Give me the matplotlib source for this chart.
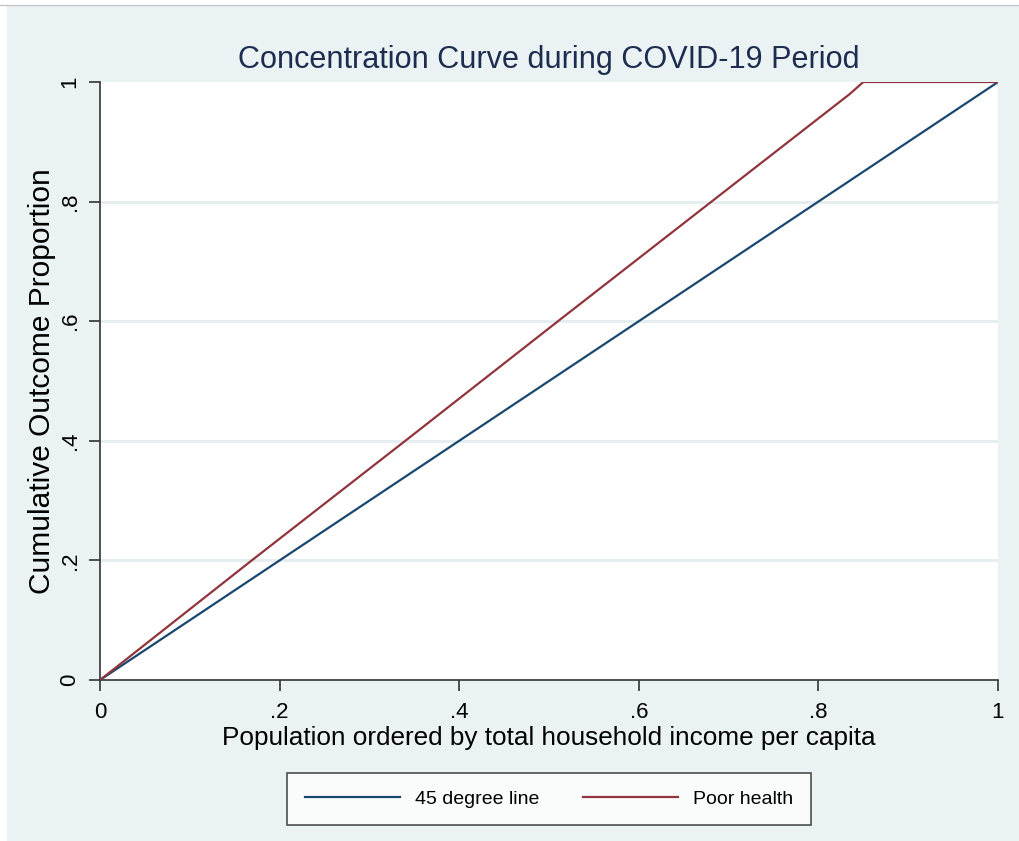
import matplotlib.pyplot as plt
import matplotlib.patches as mpatches
from matplotlib import font_manager
import numpy as np

# data
pop_share = [0.0, 0.169, 0.34, 0.51, 0.681, 0.835, 0.85, 1.0]
poor_health = [0.0, 0.2, 0.4, 0.6, 0.8, 0.98, 1.0, 1.0]
diag = [0.0, 1.0]
ticks = [0, 0.2, 0.4, 0.6, 0.8, 1.0]
tick_labels = ['0', '.2', '.4', '.6', '.8', '1']

names = {f.name for f in font_manager.fontManager.ttflist}
fam = 'Liberation Sans Narrow' if 'Liberation Sans Narrow' in names else 'Liberation Sans'
plt.rcParams['font.family'] = [fam, 'DejaVu Sans']

bg = '#eaf2f3'
navy = '#1a476f'
maroon = '#90353b'

W, H = 1019, 841
fig = plt.figure(figsize=(W / 100, H / 100), dpi=100, facecolor=bg)

# white strip on top / left like the screenshot border
fig.patches.append(mpatches.Rectangle((0, 1 - 5 / H), 1, 5 / H, transform=fig.transFigure,
                                      facecolor='white', edgecolor='none', zorder=0))
fig.patches.append(mpatches.Rectangle((0, 0), 7 / W, 1, transform=fig.transFigure,
                                      facecolor='white', edgecolor='none', zorder=0))
fig.lines.append(plt.Line2D([0, 1], [1 - 5 / H, 1 - 5 / H], transform=fig.transFigure,
                            color='#c8c8c8', lw=1))

ax = fig.add_axes([100 / W, 1 - 680 / H, 898 / W, (680 - 82) / H])
ax.set_facecolor('white')

ax.plot(diag, diag, color=navy, lw=1.6, label='45 degree line', zorder=3)
ax.plot(pop_share, poor_health, color=maroon, lw=1.6, label='Poor health', zorder=3)

ax.set_xlim(0, 1)
ax.set_ylim(0, 1)
ax.set_xticks(ticks)
ax.set_xticklabels(tick_labels)
ax.set_yticks(ticks)
ax.set_yticklabels(tick_labels, rotation=90, va='center')

for y in ticks[1:-1]:
    ax.axhline(y, color='#e4edf0', lw=2, zorder=1)

for s in ['top', 'right']:
    ax.spines[s].set_visible(False)
for s in ['left', 'bottom']:
    ax.spines[s].set_color('#333333')
    ax.spines[s].set_linewidth(1.2)

ax.tick_params(direction='out', length=8, width=1.2, color='#333333',
               labelsize=16, pad=8)
ax.tick_params(axis='y', pad=6)

ax.set_xlabel('Population ordered by total household income per capita',
              fontsize=18.8, labelpad=2)
ax.set_ylabel('Cumulative Outcome Proportion', fontsize=21.5)
ax.yaxis.set_label_coords(-0.049, 0.5)
ax.set_title('Concentration Curve during COVID-19 Period', fontsize=22.1,
             color='#1e2d4f', pad=10)

leg = fig.legend(loc='center', bbox_to_anchor=(549 / W, 1 - 799 / H), ncol=2,
                 fontsize=14, frameon=True, fancybox=False, edgecolor='#222222',
                 handlelength=4.9, columnspacing=2.2, borderpad=0.9,
                 handletextpad=0.8, borderaxespad=0)
leg.get_frame().set_linewidth(1.2)

fig.savefig('out.png', dpi=100, facecolor=bg)
